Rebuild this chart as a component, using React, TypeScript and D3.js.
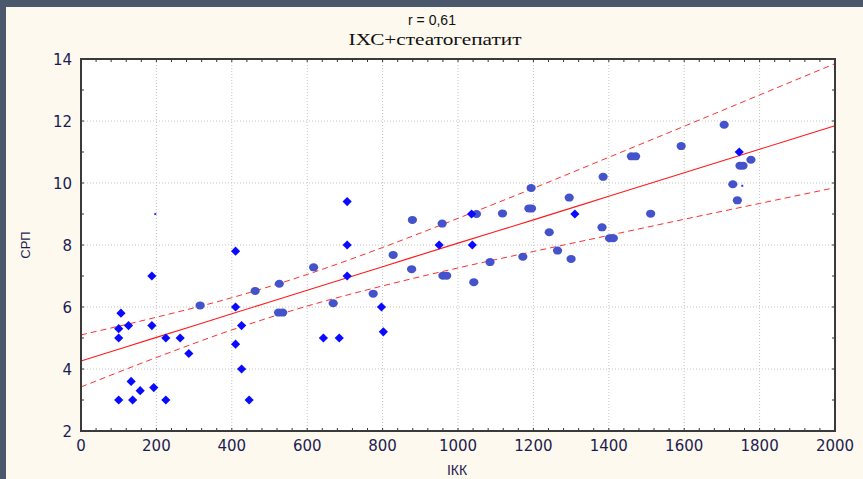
import React from "react";
import * as d3 from "d3";

// ---- data ----
const diamondX = [100, 106, 100, 126, 188, 188, 225, 263, 286, 410, 410, 426, 410, 426, 100, 137, 225, 446, 133, 157, 193, 706, 706, 706, 643, 685, 797, 802, 950, 1038, 1036, 1310, 1746];
const diamondY = [5.3, 5.8, 5.0, 5.4, 7.0, 5.4, 5.0, 5.0, 4.5, 7.8, 6.0, 5.4, 4.8, 4.0, 3.0, 3.0, 3.0, 3.0, 3.6, 3.3, 3.4, 9.4, 8.0, 7.0, 5.0, 5.0, 6.0, 5.2, 8.0, 8.0, 9.0, 9.0, 11.0];

const circleX = [316, 462, 526, 524, 535, 617, 669, 775, 828, 877, 879, 958, 960, 970, 1042, 1049, 1085, 1118, 1172, 1188, 1195, 1194, 1242, 1264, 1295, 1300, 1382, 1385, 1402, 1412, 1460, 1471, 1511, 1592, 1706, 1729, 1741, 1748, 1756, 1777];
const circleY = [6.05, 6.52, 6.75, 5.82, 5.82, 7.28, 6.12, 6.43, 7.68, 7.22, 8.81, 8.69, 7.01, 7.01, 6.8, 9.0, 7.45, 9.02, 7.62, 9.18, 9.18, 9.84, 8.41, 7.82, 9.53, 7.55, 8.57, 10.2, 8.22, 8.22, 10.86, 10.86, 9.01, 11.19, 11.88, 9.96, 9.44, 10.56, 10.56, 10.75];

const tinyX = [197, 1754];
const tinyY = [9.0, 9.91];

// regression line and 95% band, read at these x positions
const bandX = [0, 200, 400, 600, 800, 1000, 1200, 1400, 1600, 1800, 2000];
const fitY = [4.26, 5.02, 5.78, 6.54, 7.30, 8.06, 8.81, 9.57, 10.33, 11.09, 11.85];
const upperY = [5.10, 5.67, 6.30, 7.05, 7.92, 8.86, 9.83, 10.83, 11.83, 12.84, 13.85];
const lowerY = [3.42, 4.37, 5.26, 6.03, 6.68, 7.26, 7.79, 8.31, 8.83, 9.34, 9.85];

const xTicks = [0, 200, 400, 600, 800, 1000, 1200, 1400, 1600, 1800, 2000];
const yTicks = [2, 4, 6, 8, 10, 12, 14];

const titleLine1 = "r = 0,61";
const titleLine2 = "ІХС+стеатогепатит";
const xTitle = "ІКК";
const yTitle = "СРП";

export default function App() {
  const W = 863, H = 479;
  const L = 81, R = 835, T = 59, B = 431;
  const x = d3.scaleLinear().domain([0, 2000]).range([L, R]);
  const y = d3.scaleLinear().domain([2, 14]).range([B, T]);

  const minorX = d3.range(0, 2001, 40);
  const minorY = d3.range(2, 14.01, 1);

  const line = d3
    .line<number>()
    .x((_, i) => x(bandX[i]))
    .curve(d3.curveMonotoneX);
  const fitPath = line.y((v) => y(v))(fitY) || "";
  const upPath = line.y((v) => y(v))(upperY) || "";
  const loPath = line.y((v) => y(v))(lowerY) || "";

  const tickFont = "'DejaVu Sans', Verdana, sans-serif";
  const tickColor = "#1c1c50";

  const diamond = (cx: number, cy: number, r: number) =>
    `M${cx},${cy - r}L${cx + r},${cy}L${cx},${cy + r}L${cx - r},${cy}Z`;

  return (
    <div style={{ position: "fixed", left: 0, top: 0 }}>
      <svg width={W} height={H} style={{ display: "block" }}>
        <rect x={0} y={0} width={W} height={H} fill="#fef9ee" />
        <rect x={0} y={0} width={W} height={7} fill="#4b586c" />
        <rect x={0} y={0} width={6} height={H} fill="#4b586c" />

        {/* titles */}
        <text x={432} y={25} textAnchor="middle" fontFamily="'Liberation Sans', Arial, sans-serif" fontSize={14} fill="#111">
          {titleLine1}
        </text>
        <text
          transform="translate(435,45) scale(1.33,1)"
          textAnchor="middle"
          fontFamily="'Liberation Serif', 'Times New Roman', serif"
          fontSize={16}
          fill="#111"
        >
          {titleLine2}
        </text>

        {/* plot background */}
        <rect x={L} y={T} width={R - L} height={B - T} fill="#ffffff" />

        {/* grid */}
        <g stroke="#c4c4c4" strokeWidth={1} strokeDasharray="1,2">
          {xTicks.slice(1, -1).map((t) => (
            <line key={"gx" + t} x1={x(t)} x2={x(t)} y1={T} y2={B} />
          ))}
          {yTicks.slice(1, -1).map((t) => (
            <line key={"gy" + t} x1={L} x2={R} y1={y(t)} y2={y(t)} />
          ))}
        </g>

        {/* minor/major ticks (inward) */}
        <g stroke="#333" strokeWidth={1}>
          {minorX.map((t) => (
            <g key={"tx" + t}>
              <line x1={x(t)} x2={x(t)} y1={B} y2={B - 3} />
              <line x1={x(t)} x2={x(t)} y1={T} y2={T + 3} />
            </g>
          ))}
          {minorY.map((t) => (
            <g key={"ty" + t}>
              <line x1={L} x2={L + 3} y1={y(t)} y2={y(t)} />
              <line x1={R} x2={R - 3} y1={y(t)} y2={y(t)} />
            </g>
          ))}
        </g>

        {/* confidence band and fit */}
        <path d={upPath} fill="none" stroke="#ff3030" strokeWidth={1} strokeDasharray="6,4" />
        <path d={loPath} fill="none" stroke="#ff3030" strokeWidth={1} strokeDasharray="6,4" />
        <path d={fitPath} fill="none" stroke="#ff1a1a" strokeWidth={1.1} />

        {/* points */}
        {circleX.map((v, i) => (
          <ellipse key={"c" + i} cx={x(v)} cy={y(circleY[i])} rx={4.6} ry={4} fill="#4452cc" />
        ))}
        {diamondX.map((v, i) => (
          <path key={"d" + i} d={diamond(x(v), y(diamondY[i]), 4.6)} fill="#0a0aff" />
        ))}
        {tinyX.map((v, i) => (
          <rect key={"t" + i} x={x(v) - 1} y={y(tinyY[i]) - 1} width={2} height={2} fill="#2a3aff" />
        ))}

        {/* frame */}
        <rect x={L} y={T} width={R - L} height={B - T} fill="none" stroke="#3a3a3a" strokeWidth={2} />

        {/* tick labels */}
        {xTicks.map((t) => (
          <text key={"lx" + t} x={x(t)} y={451} textAnchor="middle" fontFamily={tickFont} fontSize={15} fill={tickColor}>
            {t}
          </text>
        ))}
        {yTicks.map((t) => (
          <text key={"ly" + t} x={72} y={y(t) + 5.5} textAnchor="end" fontFamily={tickFont} fontSize={15} fill={tickColor}>
            {t}
          </text>
        ))}

        {/* axis titles */}
        <text x={457} y={475} textAnchor="middle" fontFamily="'Liberation Sans', Arial, sans-serif" fontSize={14} fill="#1c1c50">
          {xTitle}
        </text>
        <text
          transform={`translate(30,${(T + B) / 2}) rotate(-90)`}
          textAnchor="middle"
          fontFamily="'Liberation Sans', Arial, sans-serif"
          fontSize={13}
          fill="#1c1c50"
        >
          {yTitle}
        </text>
      </svg>
    </div>
  );
}
